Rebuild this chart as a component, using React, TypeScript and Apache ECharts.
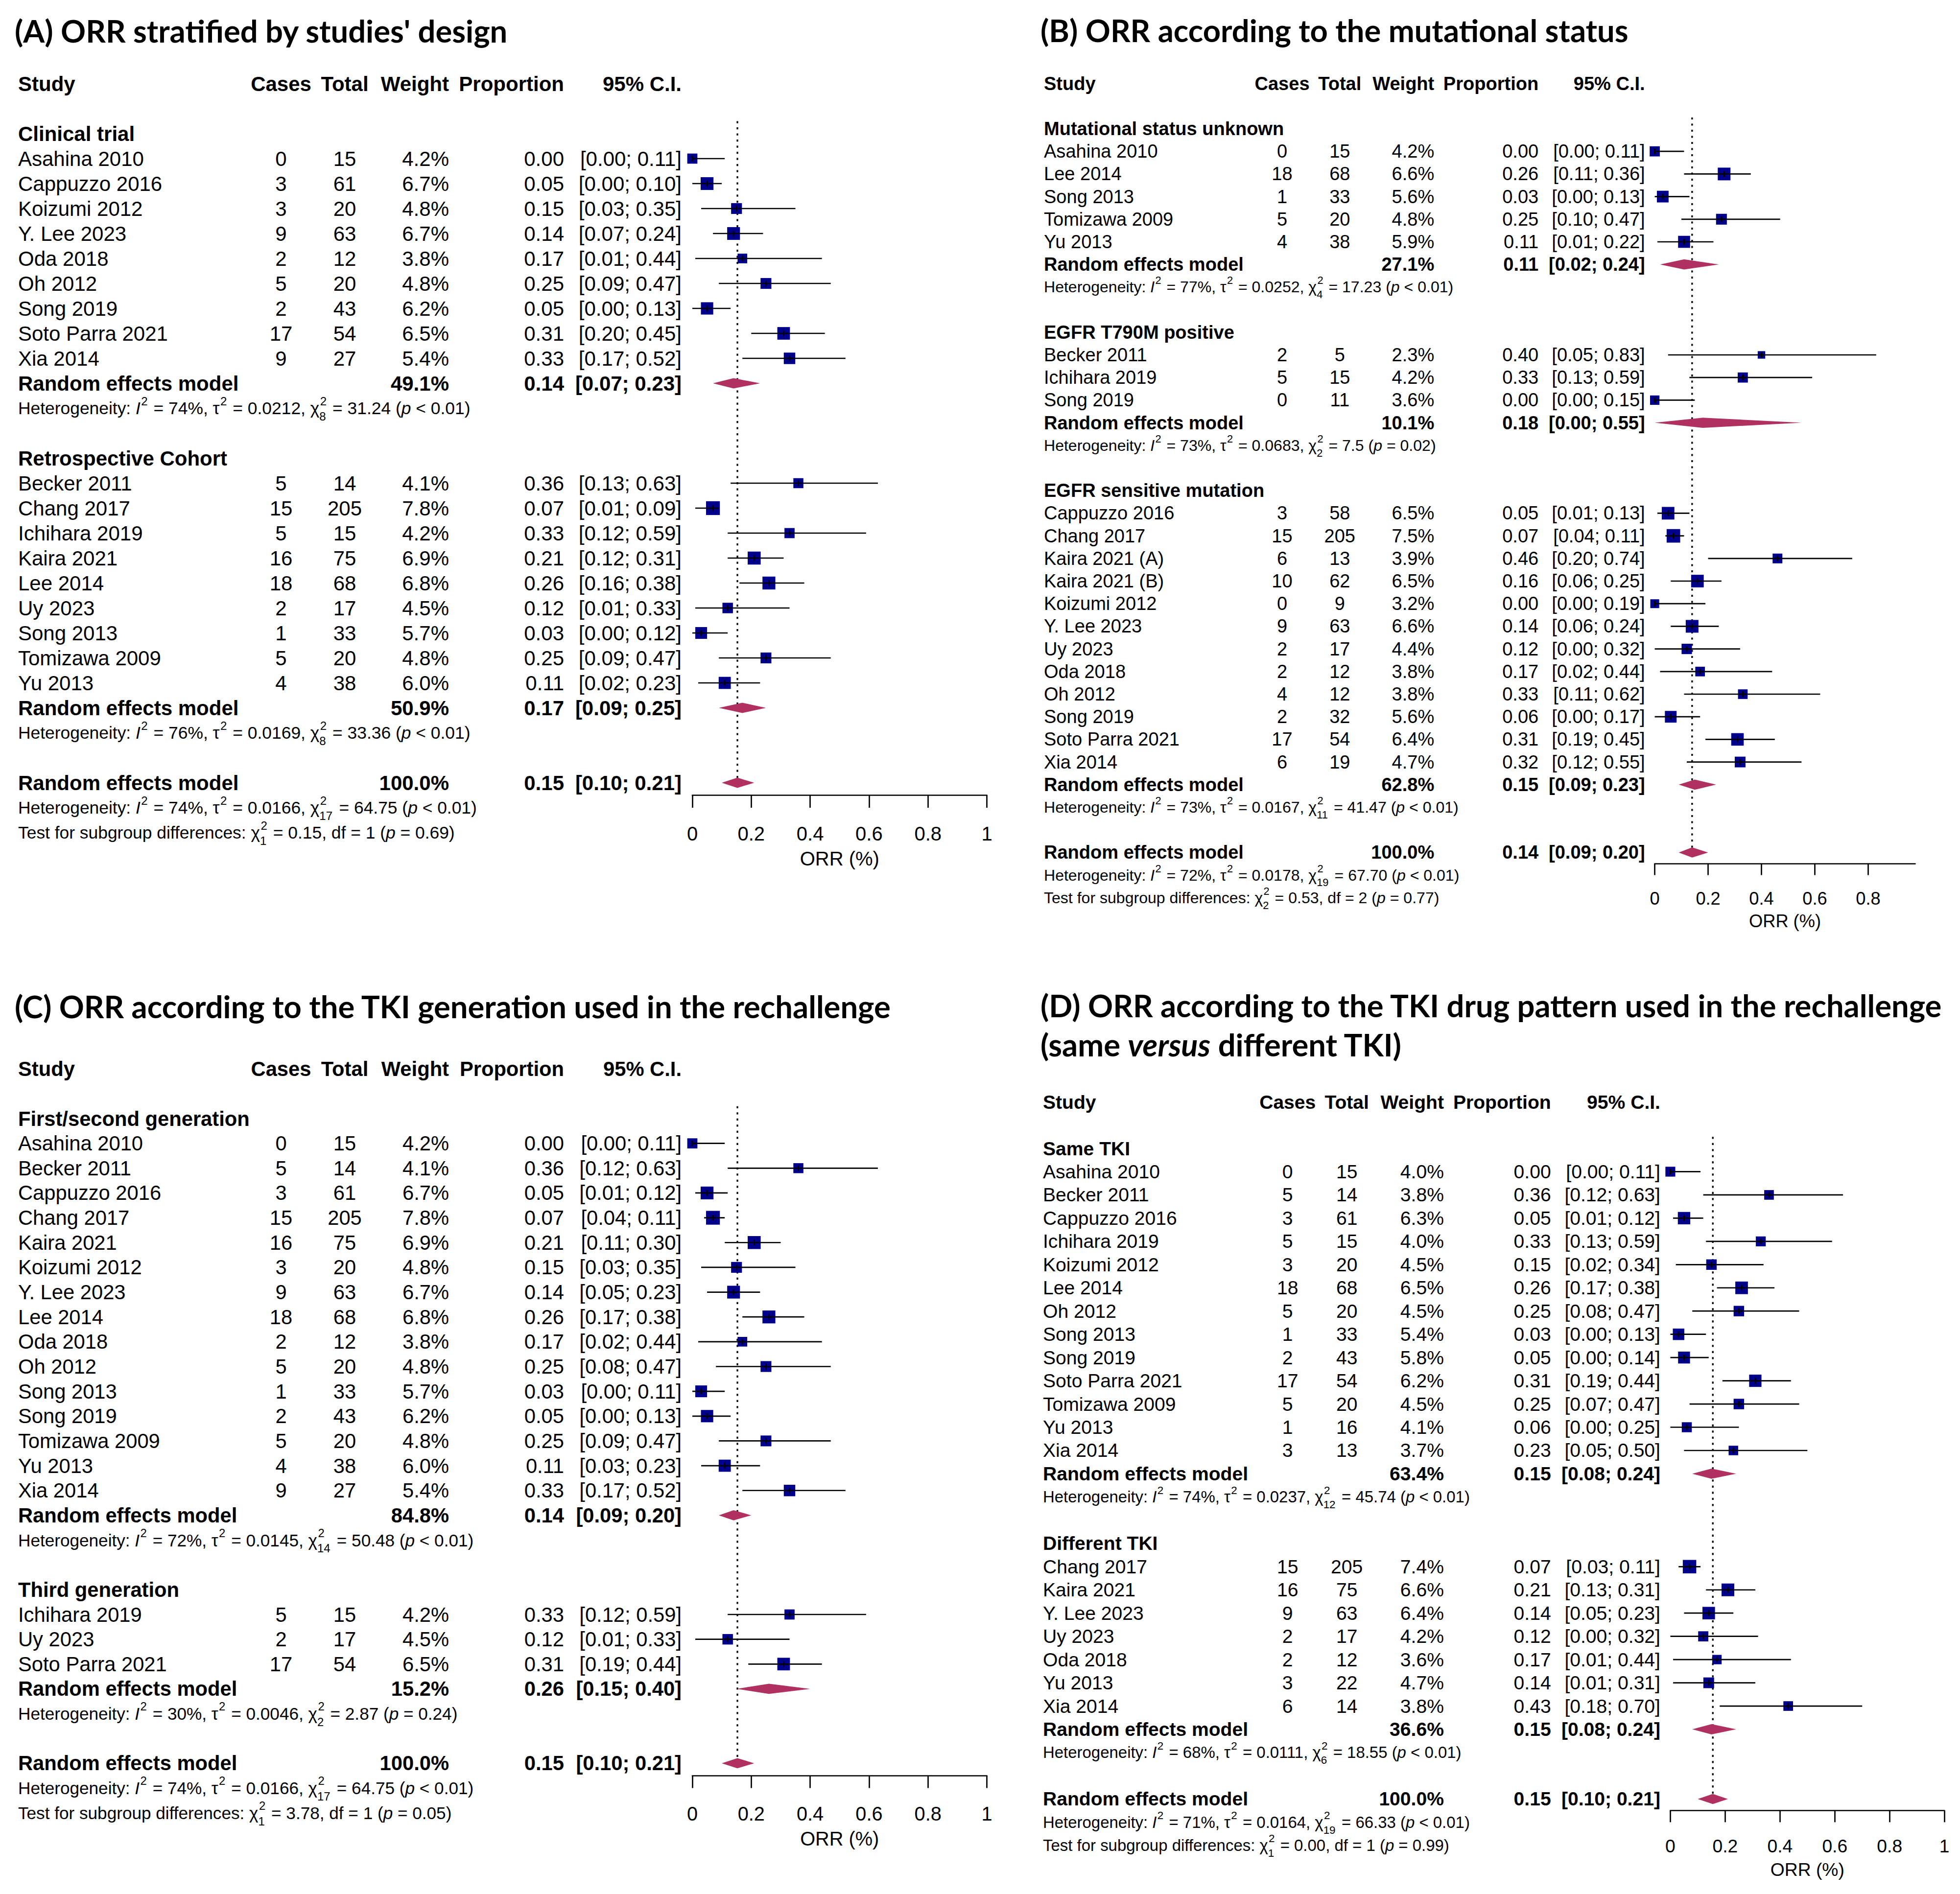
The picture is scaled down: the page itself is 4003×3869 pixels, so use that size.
import React, { useEffect, useRef } from "react";
import * as echarts from "echarts";

// ---------- data ----------
// [study, cases, total, weight %, proportion, lower, upper]
type Study = [string, number, number, number, number, number, number];
// [weight %, proportion, lower, upper]
type Summary = [number, number, number, number];
// [I2, tau2, chi df, chi2, p]
type Het = [string, string, string, string, string];
// [chi2, chi df, df, p]
type Test = [string, string, string, string];

const HEADER = ["Study", "Cases", "Total", "Weight", "Proportion", "95% C.I."];
const REM_LABEL = "Random effects model";
const AXIS_NAME = "ORR (%)";
const TICKS_FULL = [0, 0.2, 0.4, 0.6, 0.8, 1];
const TICKS_B = [0, 0.2, 0.4, 0.6, 0.8];

// Panel A
const A_title = "(A) ORR stratified by studies' design";
const A_groupLabels = ["Clinical trial", "Retrospective Cohort"];
const A_trial: Study[] = [
  ["Asahina 2010", 0, 15, 4.2, 0.0, 0.0, 0.11],
  ["Cappuzzo 2016", 3, 61, 6.7, 0.05, 0.0, 0.1],
  ["Koizumi 2012", 3, 20, 4.8, 0.15, 0.03, 0.35],
  ["Y. Lee 2023", 9, 63, 6.7, 0.14, 0.07, 0.24],
  ["Oda 2018", 2, 12, 3.8, 0.17, 0.01, 0.44],
  ["Oh 2012", 5, 20, 4.8, 0.25, 0.09, 0.47],
  ["Song 2019", 2, 43, 6.2, 0.05, 0.0, 0.13],
  ["Soto Parra 2021", 17, 54, 6.5, 0.31, 0.2, 0.45],
  ["Xia 2014", 9, 27, 5.4, 0.33, 0.17, 0.52],
];
const A_cohort: Study[] = [
  ["Becker 2011", 5, 14, 4.1, 0.36, 0.13, 0.63],
  ["Chang 2017", 15, 205, 7.8, 0.07, 0.01, 0.09],
  ["Ichihara 2019", 5, 15, 4.2, 0.33, 0.12, 0.59],
  ["Kaira 2021", 16, 75, 6.9, 0.21, 0.12, 0.31],
  ["Lee 2014", 18, 68, 6.8, 0.26, 0.16, 0.38],
  ["Uy 2023", 2, 17, 4.5, 0.12, 0.01, 0.33],
  ["Song 2013", 1, 33, 5.7, 0.03, 0.0, 0.12],
  ["Tomizawa 2009", 5, 20, 4.8, 0.25, 0.09, 0.47],
  ["Yu 2013", 4, 38, 6.0, 0.11, 0.02, 0.23],
];
const A_groupSummary: Summary[] = [
  [49.1, 0.14, 0.07, 0.23],
  [50.9, 0.17, 0.09, 0.25],
];
const A_groupHet: Het[] = [
  ["74%", "0.0212", "8", "31.24", "< 0.01"],
  ["76%", "0.0169", "8", "33.36", "< 0.01"],
];
const A_overall: Summary = [100.0, 0.153, 0.1, 0.21];
const A_overallHet: Het = ["74%", "0.0166", "17", "64.75", "< 0.01"];
const A_test: Test = ["0.15", "1", "1", "= 0.69"];

// Panel B
const B_title = "(B) ORR according to the mutational status";
const B_groupLabels = ["Mutational status unknown", "EGFR T790M positive", "EGFR sensitive mutation"];
const B_unknown: Study[] = [
  ["Asahina 2010", 0, 15, 4.2, 0.0, 0.0, 0.11],
  ["Lee 2014", 18, 68, 6.6, 0.26, 0.11, 0.36],
  ["Song 2013", 1, 33, 5.6, 0.03, 0.0, 0.13],
  ["Tomizawa 2009", 5, 20, 4.8, 0.25, 0.1, 0.47],
  ["Yu 2013", 4, 38, 5.9, 0.11, 0.01, 0.22],
];
const B_t790m: Study[] = [
  ["Becker 2011", 2, 5, 2.3, 0.4, 0.05, 0.83],
  ["Ichihara 2019", 5, 15, 4.2, 0.33, 0.13, 0.59],
  ["Song 2019", 0, 11, 3.6, 0.0, 0.0, 0.15],
];
const B_sensitive: Study[] = [
  ["Cappuzzo 2016", 3, 58, 6.5, 0.05, 0.01, 0.13],
  ["Chang 2017", 15, 205, 7.5, 0.07, 0.04, 0.11],
  ["Kaira 2021 (A)", 6, 13, 3.9, 0.46, 0.2, 0.74],
  ["Kaira 2021 (B)", 10, 62, 6.5, 0.16, 0.06, 0.25],
  ["Koizumi 2012", 0, 9, 3.2, 0.0, 0.0, 0.19],
  ["Y. Lee 2023", 9, 63, 6.6, 0.14, 0.06, 0.24],
  ["Uy 2023", 2, 17, 4.4, 0.12, 0.0, 0.32],
  ["Oda 2018", 2, 12, 3.8, 0.17, 0.02, 0.44],
  ["Oh 2012", 4, 12, 3.8, 0.33, 0.11, 0.62],
  ["Song 2019", 2, 32, 5.6, 0.06, 0.0, 0.17],
  ["Soto Parra 2021", 17, 54, 6.4, 0.31, 0.19, 0.45],
  ["Xia 2014", 6, 19, 4.7, 0.32, 0.12, 0.55],
];
const B_groupSummary: Summary[] = [
  [27.1, 0.11, 0.02, 0.24],
  [10.1, 0.18, 0.0, 0.55],
  [62.8, 0.15, 0.09, 0.23],
];
const B_groupHet: Het[] = [
  ["77%", "0.0252", "4", "17.23", "< 0.01"],
  ["73%", "0.0683", "2", "7.5", "= 0.02"],
  ["73%", "0.0167", "11", "41.47", "< 0.01"],
];
const B_overall: Summary = [100.0, 0.14, 0.09, 0.2];
const B_overallHet: Het = ["72%", "0.0178", "19", "67.70", "< 0.01"];
const B_test: Test = ["0.53", "2", "2", "= 0.77"];

// Panel C
const C_title = "(C) ORR according to the TKI generation used in the rechallenge";
const C_groupLabels = ["First/second generation", "Third generation"];
const C_first: Study[] = [
  ["Asahina 2010", 0, 15, 4.2, 0.0, 0.0, 0.11],
  ["Becker 2011", 5, 14, 4.1, 0.36, 0.12, 0.63],
  ["Cappuzzo 2016", 3, 61, 6.7, 0.05, 0.01, 0.12],
  ["Chang 2017", 15, 205, 7.8, 0.07, 0.04, 0.11],
  ["Kaira 2021", 16, 75, 6.9, 0.21, 0.11, 0.3],
  ["Koizumi 2012", 3, 20, 4.8, 0.15, 0.03, 0.35],
  ["Y. Lee 2023", 9, 63, 6.7, 0.14, 0.05, 0.23],
  ["Lee 2014", 18, 68, 6.8, 0.26, 0.17, 0.38],
  ["Oda 2018", 2, 12, 3.8, 0.17, 0.02, 0.44],
  ["Oh 2012", 5, 20, 4.8, 0.25, 0.08, 0.47],
  ["Song 2013", 1, 33, 5.7, 0.03, 0.0, 0.11],
  ["Song 2019", 2, 43, 6.2, 0.05, 0.0, 0.13],
  ["Tomizawa 2009", 5, 20, 4.8, 0.25, 0.09, 0.47],
  ["Yu 2013", 4, 38, 6.0, 0.11, 0.03, 0.23],
  ["Xia 2014", 9, 27, 5.4, 0.33, 0.17, 0.52],
];
const C_third: Study[] = [
  ["Ichihara 2019", 5, 15, 4.2, 0.33, 0.12, 0.59],
  ["Uy 2023", 2, 17, 4.5, 0.12, 0.01, 0.33],
  ["Soto Parra 2021", 17, 54, 6.5, 0.31, 0.19, 0.44],
];
const C_groupSummary: Summary[] = [
  [84.8, 0.14, 0.09, 0.2],
  [15.2, 0.26, 0.15, 0.4],
];
const C_groupHet: Het[] = [
  ["72%", "0.0145", "14", "50.48", "< 0.01"],
  ["30%", "0.0046", "2", "2.87", "= 0.24"],
];
const C_overall: Summary = [100.0, 0.153, 0.1, 0.21];
const C_overallHet: Het = ["74%", "0.0166", "17", "64.75", "< 0.01"];
const C_test: Test = ["3.78", "1", "1", "= 0.05"];

// Panel D
const D_title1 = "(D) ORR according to the TKI drug pattern used in the rechallenge";
const D_title2 = ["(same ", "versus", " different TKI)"];
const D_groupLabels = ["Same TKI", "Different TKI"];
const D_same: Study[] = [
  ["Asahina 2010", 0, 15, 4.0, 0.0, 0.0, 0.11],
  ["Becker 2011", 5, 14, 3.8, 0.36, 0.12, 0.63],
  ["Cappuzzo 2016", 3, 61, 6.3, 0.05, 0.01, 0.12],
  ["Ichihara 2019", 5, 15, 4.0, 0.33, 0.13, 0.59],
  ["Koizumi 2012", 3, 20, 4.5, 0.15, 0.02, 0.34],
  ["Lee 2014", 18, 68, 6.5, 0.26, 0.17, 0.38],
  ["Oh 2012", 5, 20, 4.5, 0.25, 0.08, 0.47],
  ["Song 2013", 1, 33, 5.4, 0.03, 0.0, 0.13],
  ["Song 2019", 2, 43, 5.8, 0.05, 0.0, 0.14],
  ["Soto Parra 2021", 17, 54, 6.2, 0.31, 0.19, 0.44],
  ["Tomizawa 2009", 5, 20, 4.5, 0.25, 0.07, 0.47],
  ["Yu 2013", 1, 16, 4.1, 0.06, 0.0, 0.25],
  ["Xia 2014", 3, 13, 3.7, 0.23, 0.05, 0.5],
];
const D_different: Study[] = [
  ["Chang 2017", 15, 205, 7.4, 0.07, 0.03, 0.11],
  ["Kaira 2021", 16, 75, 6.6, 0.21, 0.13, 0.31],
  ["Y. Lee 2023", 9, 63, 6.4, 0.14, 0.05, 0.23],
  ["Uy 2023", 2, 17, 4.2, 0.12, 0.0, 0.32],
  ["Oda 2018", 2, 12, 3.6, 0.17, 0.01, 0.44],
  ["Yu 2013", 3, 22, 4.7, 0.14, 0.01, 0.31],
  ["Xia 2014", 6, 14, 3.8, 0.43, 0.18, 0.7],
];
const D_groupSummary: Summary[] = [
  [63.4, 0.15, 0.08, 0.24],
  [36.6, 0.15, 0.08, 0.24],
];
const D_groupHet: Het[] = [
  ["74%", "0.0237", "12", "45.74", "< 0.01"],
  ["68%", "0.0111", "6", "18.55", "< 0.01"],
];
const D_overall: Summary = [100.0, 0.155, 0.1, 0.21];
const D_overallHet: Het = ["71%", "0.0164", "19", "66.33", "< 0.01"];
const D_test: Test = ["0.00", "1", "1", "= 0.99"];

// ---------- styling / layout ----------
const FONT = "'Liberation Sans', Arial, Helvetica, sans-serif";
const TITLE_FONT = "Lato, 'Liberation Sans', sans-serif";
const SQUARE = "#00008B";
const DIAMOND = "#B03060";
const W = 4003;
const H = 3869;

type Seg = { t?: string; i?: boolean; b?: boolean; sup?: string; sub?: string };

let mctx: CanvasRenderingContext2D | null = null;
function measure(text: string, size: number, bold: boolean, italic: boolean, family: string) {
  if (!mctx) mctx = document.createElement("canvas").getContext("2d");
  mctx!.font = `${italic ? "italic " : ""}${bold ? "bold " : ""}${size}px ${family}`;
  return mctx!.measureText(text).width;
}

function txt(text: string, x: number, y: number, size: number, o: any = {}) {
  return {
    type: "text",
    x,
    y,
    silent: true,
    style: {
      text,
      fill: "#000",
      fontSize: size,
      fontFamily: o.family || FONT,
      fontWeight: o.b ? "bold" : "normal",
      fontStyle: o.i ? "italic" : "normal",
      align: o.align || "left",
      verticalAlign: "middle",
    },
  };
}

function segEls(segs: Seg[], x: number, y: number, f: number, family = FONT, bold = false) {
  const out: any[] = [];
  let cx = x;
  const fs = f * 0.68;
  for (const s of segs) {
    if (s.t !== undefined) {
      out.push(txt(s.t, cx, y, f, { i: s.i, b: s.b || bold, family }));
      cx += measure(s.t, f, !!(s.b || bold), !!s.i, family);
    } else {
      let w = 0;
      if (s.sup) {
        out.push(txt(s.sup, cx + f * 0.04, y - 0.42 * f, fs, { family }));
        w = Math.max(w, measure(s.sup, fs, false, false, family));
      }
      if (s.sub) {
        out.push(txt(s.sub, cx, y + 0.48 * f, fs, { family }));
        w = Math.max(w, measure(s.sub, fs, false, false, family));
      }
      cx += w + f * 0.1;
    }
  }
  return out;
}

function hetSegs(h: Het): Seg[] {
  return [
    { t: "Heterogeneity: " },
    { t: "I", i: true },
    { sup: "2" },
    { t: ` = ${h[0]}, ` },
    { t: "\u03C4" },
    { sup: "2" },
    { t: ` = ${h[1]}, ` },
    { t: "\u03C7" },
    { sup: "2", sub: h[2] },
    { t: ` = ${h[3]} (` },
    { t: "p", i: true },
    { t: ` ${h[4]})` },
  ];
}
function testSegs(t: Test): Seg[] {
  return [
    { t: "Test for subgroup differences: " },
    { t: "\u03C7" },
    { sup: "2", sub: t[1] },
    { t: ` = ${t[0]}, df = ${t[2]} (` },
    { t: "p", i: true },
    { t: ` ${t[3]})` },
  ];
}

type Panel = {
  groups: { label: string; studies: Study[]; summary: Summary; het: Het }[];
  overall: Summary;
  overallHet: Het;
  test: Test;
  ticks: number[];
  xmax: number;
  x0: number;
  y0: number;
  p: number;
  kx: number;
};

const PANELS: Panel[] = [
  {
    groups: [
      { label: A_groupLabels[0], studies: A_trial, summary: A_groupSummary[0], het: A_groupHet[0] },
      { label: A_groupLabels[1], studies: A_cohort, summary: A_groupSummary[1], het: A_groupHet[1] },
    ],
    overall: A_overall, overallHet: A_overallHet, test: A_test, ticks: TICKS_FULL, xmax: 1,
    x0: 37, y0: 273, p: 51, kx: 1,
  },
  {
    groups: [
      { label: B_groupLabels[0], studies: B_unknown, summary: B_groupSummary[0], het: B_groupHet[0] },
      { label: B_groupLabels[1], studies: B_t790m, summary: B_groupSummary[1], het: B_groupHet[1] },
      { label: B_groupLabels[2], studies: B_sensitive, summary: B_groupSummary[2], het: B_groupHet[2] },
    ],
    overall: B_overall, overallHet: B_overallHet, test: B_test, ticks: TICKS_B, xmax: 0.976,
    x0: 2132, y0: 263, p: 46.2, kx: 0.906,
  },
  {
    groups: [
      { label: C_groupLabels[0], studies: C_first, summary: C_groupSummary[0], het: C_groupHet[0] },
      { label: C_groupLabels[1], studies: C_third, summary: C_groupSummary[1], het: C_groupHet[1] },
    ],
    overall: C_overall, overallHet: C_overallHet, test: C_test, ticks: TICKS_FULL, xmax: 1,
    x0: 37, y0: 2285, p: 50.65, kx: 1,
  },
  {
    groups: [
      { label: D_groupLabels[0], studies: D_same, summary: D_groupSummary[0], het: D_groupHet[0] },
      { label: D_groupLabels[1], studies: D_different, summary: D_groupSummary[1], het: D_groupHet[1] },
    ],
    overall: D_overall, overallHet: D_overallHet, test: D_test, ticks: TICKS_FULL, xmax: 1,
    x0: 2130, y0: 2346, p: 47.46, kx: 0.9306,
  },
];

const ciStr = (lo: number, hi: number) => `[${lo.toFixed(2)}; ${hi.toFixed(2)}]`;

function layout(P: Panel) {
  const rows: any[] = [{ row: -2, kind: "header" }];
  const squares: number[][] = [];
  const cis: number[][] = [];
  const diamonds: number[][] = [];
  let r = 0;
  for (const g of P.groups) {
    rows.push({ row: r++, kind: "group", label: g.label });
    for (const s of g.studies) {
      rows.push({ row: r, kind: "study", s });
      squares.push([s[4], r, s[3]]);
      cis.push([s[5], s[6], r, s[4]]);
      r++;
    }
    rows.push({ row: r, kind: "rem", sum: g.summary });
    diamonds.push([g.summary[2], g.summary[3], r, g.summary[1]]);
    r++;
    rows.push({ row: r++, kind: "het", het: g.het });
    r++;
  }
  const last = r;
  rows.push({ row: last, kind: "rem", sum: P.overall });
  diamonds.push([P.overall[2], P.overall[3], last, P.overall[1]]);
  rows.push({ row: last + 1, kind: "het", het: P.overallHet });
  rows.push({ row: last + 2, kind: "test", test: P.test });
  return { rows, squares, cis, diamonds, last };
}

function buildOption() {
  const grid: any[] = [];
  const xAxis: any[] = [];
  const yAxis: any[] = [];
  const series: any[] = [];
  const rowMin = -2.5;

  PANELS.forEach((P, i) => {
    const L = layout(P);
    const fk = P.p / 51;
    const fTab = 42 * fk;
    const fHet = 35.4 * fk;
    const fAx = 40 * fk;
    const axisRow = L.last + 0.5;
    const col = {
      study: P.x0,
      cases: P.x0 + 537 * P.kx,
      total: P.x0 + 667 * P.kx,
      weight: P.x0 + 880 * P.kx,
      est: P.x0 + 1115 * P.kx,
      ci: P.x0 + 1355 * P.kx,
    };
    const unit = 601.5 * P.kx;
    grid.push({
      left: P.x0 + 1377 * P.kx,
      top: P.y0 + rowMin * P.p,
      width: unit * P.xmax,
      height: (axisRow - rowMin) * P.p,
      containLabel: false,
    });
    xAxis.push({
      gridIndex: i,
      type: "value",
      min: 0,
      max: P.xmax,
      interval: 0.2,
      axisLine: { show: true, onZero: false, lineStyle: { color: "#000", width: 2.7 } },
      axisTick: { show: true, length: 0.5 * P.p, lineStyle: { color: "#000", width: 2.7 }, customValues: P.ticks },
      axisLabel: {
        show: true,
        color: "#000",
        fontFamily: FONT,
        fontSize: fAx,
        margin: 1.53 * P.p - fAx / 2,
        customValues: P.ticks,
        formatter: (v: number) => String(Math.round(v * 10) / 10),
      },
      splitLine: { show: false },
      name: AXIS_NAME,
      nameLocation: "middle",
      nameGap: 2.53 * P.p - fAx / 2,
      nameTextStyle: { color: "#000", fontFamily: FONT, fontSize: fAx },
    });
    yAxis.push({ gridIndex: i, type: "value", inverse: true, min: rowMin, max: axisRow, show: false });

    // reference (dotted) line at the overall estimate
    series.push({
      type: "custom",
      xAxisIndex: i,
      yAxisIndex: i,
      silent: true,
      clip: false,
      z: 1,
      encode: { x: 0, y: [1, 2] },
      data: [[P.overall[1], -0.5, L.last]],
      renderItem: (params: any, api: any) => {
        const a = api.coord([api.value(0), api.value(1)]);
        const b = api.coord([api.value(0), api.value(2)]);
        return {
          type: "line",
          shape: { x1: a[0], y1: a[1], x2: b[0], y2: b[1] },
          style: { stroke: "#000", lineWidth: 3.3, lineDash: [4.2, 8.3] },
        };
      },
    });
    // study squares
    series.push({
      type: "scatter",
      xAxisIndex: i,
      yAxisIndex: i,
      silent: true,
      clip: false,
      z: 2,
      symbol: "rect",
      symbolSize: (v: number[]) => 10.1 * Math.sqrt(v[2]),
      itemStyle: { color: SQUARE, opacity: 1 },
      data: L.squares,
    });
    // confidence intervals
    series.push({
      type: "custom",
      xAxisIndex: i,
      yAxisIndex: i,
      silent: true,
      clip: false,
      z: 3,
      encode: { x: [0, 1, 3], y: 2 },
      data: L.cis,
      renderItem: (params: any, api: any) => {
        const a = api.coord([api.value(0), api.value(2)]);
        const b = api.coord([api.value(1), api.value(2)]);
        const e = api.coord([api.value(3), api.value(2)]);
        return {
          type: "group",
          children: [
            { type: "line", shape: { x1: a[0], y1: a[1], x2: b[0], y2: b[1] }, style: { stroke: "#000", lineWidth: 2.7 } },
            { type: "line", shape: { x1: e[0], y1: e[1] - 5.6, x2: e[0], y2: e[1] + 5.6 }, style: { stroke: "#000", lineWidth: 2.9 } },
          ],
        };
      },
    });
    // pooled diamonds
    series.push({
      type: "custom",
      xAxisIndex: i,
      yAxisIndex: i,
      silent: true,
      clip: false,
      z: 4,
      encode: { x: [0, 1, 3], y: 2 },
      data: L.diamonds,
      renderItem: (params: any, api: any) => {
        const a = api.coord([api.value(0), api.value(2)]);
        const b = api.coord([api.value(1), api.value(2)]);
        const e = api.coord([api.value(3), api.value(2)]);
        const h = 10.4;
        return {
          type: "polygon",
          shape: { points: [[a[0], a[1]], [e[0], e[1] - h], [b[0], b[1]], [e[0], e[1] + h]] },
          style: { fill: DIAMOND },
        };
      },
    });
    // table text
    series.push({
      type: "custom",
      xAxisIndex: i,
      yAxisIndex: i,
      silent: true,
      clip: false,
      z: 5,
      encode: { x: 0, y: 1 },
      data: L.rows.map((r: any) => [0, r.row]),
      renderItem: (params: any, api: any) => {
        const r = L.rows[params.dataIndex];
        const y = api.coord([0, r.row])[1];
        const ch: any[] = [];
        if (r.kind === "header") {
          ch.push(txt(HEADER[0], col.study, y, fTab, { b: true }));
          ch.push(txt(HEADER[1], col.cases, y, fTab, { b: true, align: "center" }));
          ch.push(txt(HEADER[2], col.total, y, fTab, { b: true, align: "center" }));
          ch.push(txt(HEADER[3], col.weight, y, fTab, { b: true, align: "right" }));
          ch.push(txt(HEADER[4], col.est, y, fTab, { b: true, align: "right" }));
          ch.push(txt(HEADER[5], col.ci, y, fTab, { b: true, align: "right" }));
        } else if (r.kind === "group") {
          ch.push(txt(r.label, col.study, y, fTab, { b: true }));
        } else if (r.kind === "study") {
          const s: Study = r.s;
          ch.push(txt(s[0], col.study, y, fTab));
          ch.push(txt(String(s[1]), col.cases, y, fTab, { align: "center" }));
          ch.push(txt(String(s[2]), col.total, y, fTab, { align: "center" }));
          ch.push(txt(`${s[3].toFixed(1)}%`, col.weight, y, fTab, { align: "right" }));
          ch.push(txt(s[4].toFixed(2), col.est, y, fTab, { align: "right" }));
          ch.push(txt(ciStr(s[5], s[6]), col.ci, y, fTab, { align: "right" }));
        } else if (r.kind === "rem") {
          const s: Summary = r.sum;
          ch.push(txt(REM_LABEL, col.study, y, fTab, { b: true }));
          ch.push(txt(`${s[0].toFixed(1)}%`, col.weight, y, fTab, { b: true, align: "right" }));
          ch.push(txt(s[1].toFixed(2), col.est, y, fTab, { b: true, align: "right" }));
          ch.push(txt(ciStr(s[2], s[3]), col.ci, y, fTab, { b: true, align: "right" }));
        } else if (r.kind === "het") {
          ch.push(...segEls(hetSegs(r.het), col.study, y, fHet));
        } else if (r.kind === "test") {
          ch.push(...segEls(testSegs(r.test), col.study, y, fHet));
        }
        return { type: "group", children: ch };
      },
    });
  });

  // titles
  const tw = measure(A_title, 100, true, false, TITLE_FONT);
  const fT = (100 * 1008) / tw;
  const graphic: any[] = [
    ...segEls([{ t: A_title }], 30, 62, fT, TITLE_FONT, true),
    ...segEls([{ t: B_title }], 2125, 61, fT, TITLE_FONT, true),
    ...segEls([{ t: C_title }], 30, 2055, fT, TITLE_FONT, true),
    ...segEls([{ t: D_title1 }], 2125, 2053, fT, TITLE_FONT, true),
    ...segEls([{ t: D_title2[0] }, { t: D_title2[1], i: true }, { t: D_title2[2] }], 2125, 2133, fT, TITLE_FONT, true),
  ];

  return {
    animation: false,
    backgroundColor: "#fff",
    grid,
    xAxis,
    yAxis,
    series,
    graphic,
  };
}

export default function App() {
  const ref = useRef<HTMLDivElement>(null);
  useEffect(() => {
    if (!ref.current) return;
    const chart = echarts.init(ref.current, null, { renderer: "svg", width: W, height: H });
    chart.setOption(buildOption() as any);
    return () => chart.dispose();
  }, []);
  return <div ref={ref} style={{ position: "absolute", left: 0, top: 0, width: W, height: H }} />;
}
